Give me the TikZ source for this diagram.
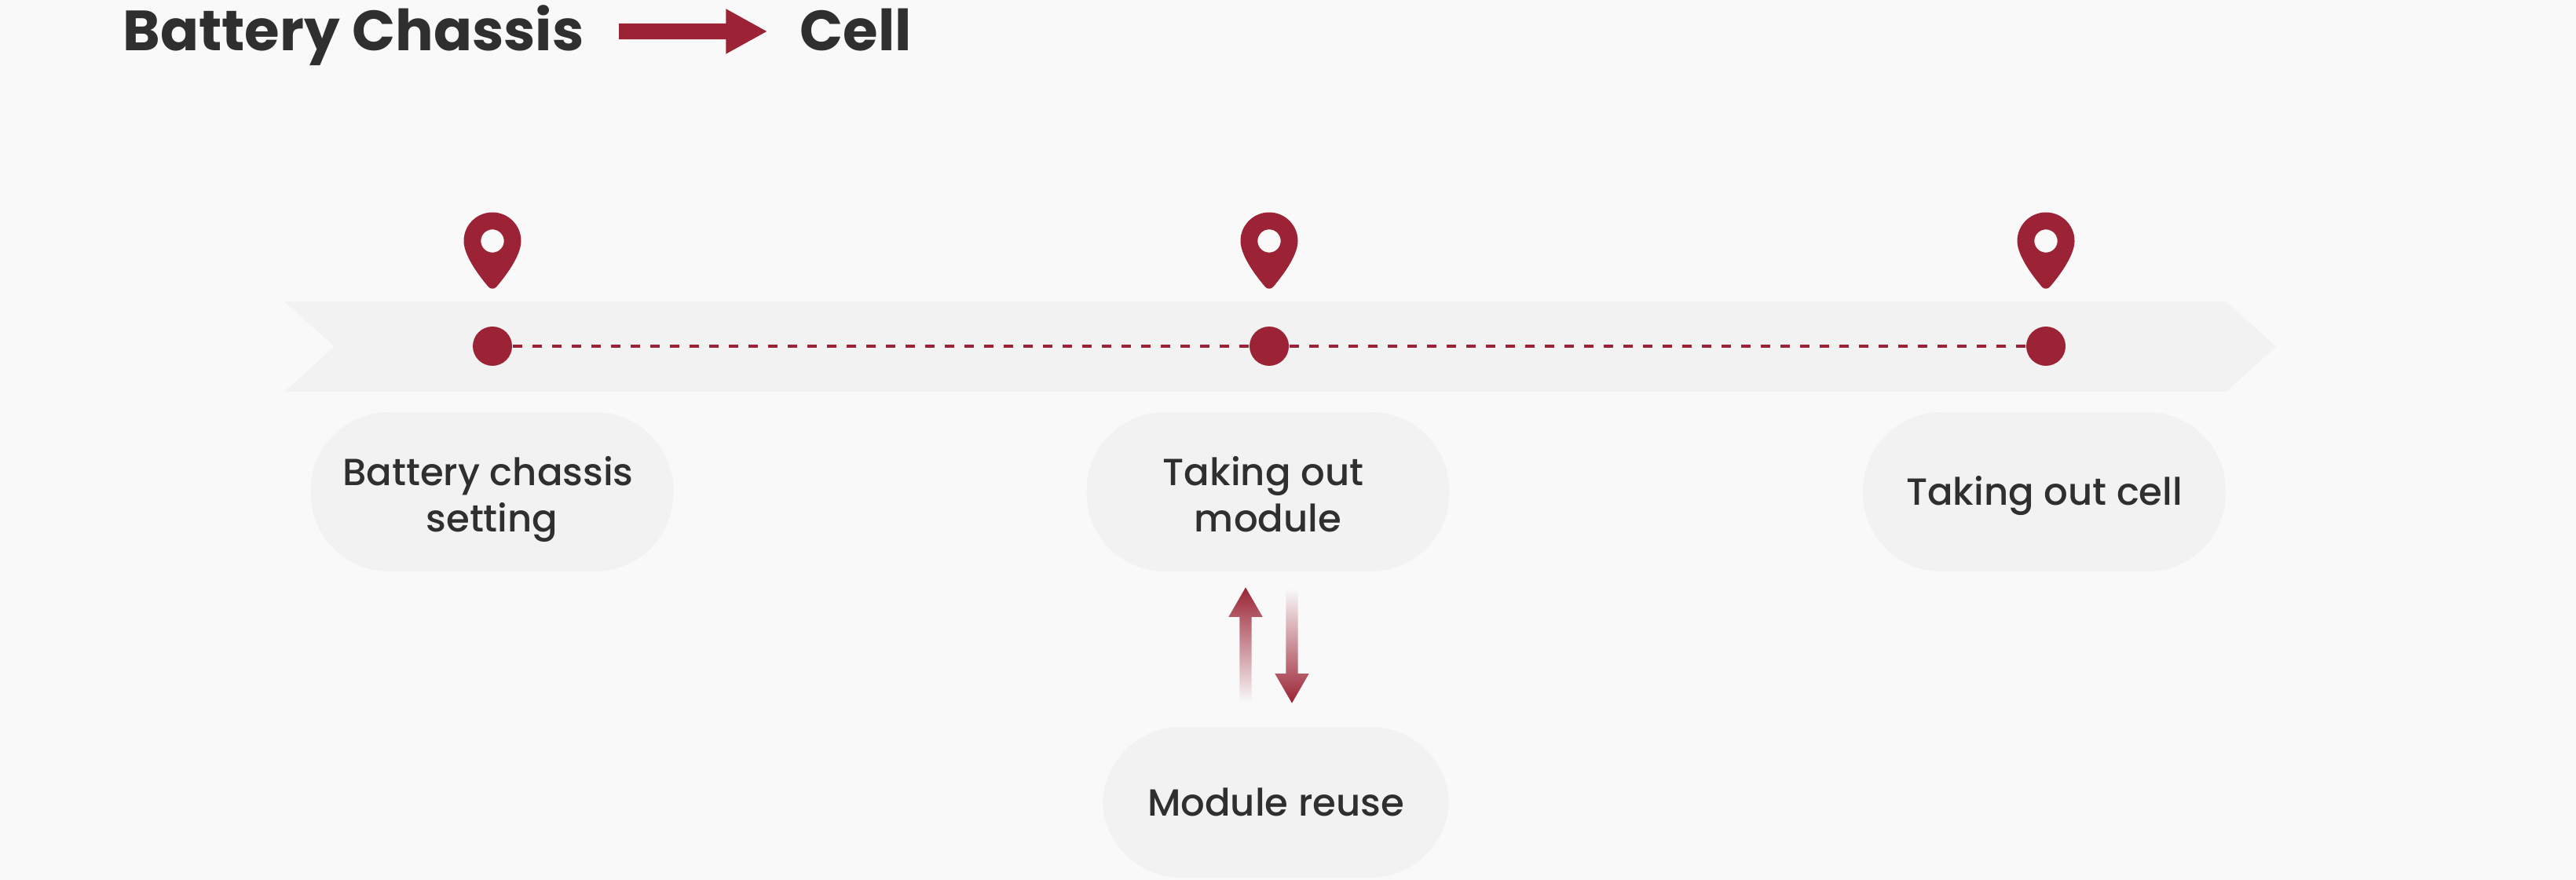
\documentclass[tikz,border=0pt]{standalone}
\usepackage{fontspec}
\setmainfont{Poppins}[UprightFont=* Medium, BoldFont=* Bold]
\usepackage{xcolor}
\usetikzlibrary{shapes.arrows, positioning, calc}
\definecolor{pinred}{RGB}{155,35,53}
\definecolor{pagegray}{RGB}{249,249,249}
\definecolor{boxgray}{RGB}{242,242,242}
\definecolor{textgray}{RGB}{47,47,47}

\begin{document}
\begin{tikzpicture}[
    stepbox/.style={rectangle, fill=boxgray, rounded corners=1cm, minimum width=4.62cm, minimum height=2.03cm,
                    align=center, inner sep=0pt, text=textgray, text height=0.34cm, text depth=0pt,
                    font=\fontsize{13.7}{16.8}\selectfont},
    twolines/.style={text height=1.03cm},
    dot/.style={circle, fill=pinred, minimum size=0.5cm, inner sep=0pt},
    heading/.style={anchor=base west, inner sep=0pt, text=textgray, font=\fontsize{20.55}{25}\selectfont\bfseries},
    blockarrow/.style={single arrow, inner xsep=0.07cm, inner ysep=0pt, outer sep=0pt, minimum width=0.42cm,
                       single arrow head extend=0.14cm, single arrow tip angle=60, minimum height=1.46cm}
]
    \fill[pagegray] (0, 0) rectangle (32.8, -11.21);

    % title
    \node[heading] (source) at (1.56, -0.65) {Battery Chassis};
    \node[heading] (target) at (10.18, -0.65) {Cell};
    \node[single arrow, fill=pinred, inner xsep=0pt, inner ysep=0.095cm, outer sep=0pt, minimum width=0.56cm, minimum height=1.88cm,
          single arrow head extend=0.185cm, single arrow tip angle=58] (titlearrow) at (8.73, -0.4) {};

    % ribbon
    \fill[boxgray] (3.62, -3.84) -- (28.34, -3.84) -- (28.98, -4.415) -- (28.34, -4.99)
        -- (3.62, -4.99) -- (4.26, -4.415) -- cycle;

    % stops
    \foreach \name/\x in {first/6.27, second/16.16, third/26.05} {
        \node[dot] (\name) at (\x, -4.41) {};
        \fill[pinred, even odd rule, shift={(\x, -3.07)}]
            (-0.365, 0) arc[start angle=180, end angle=0, radius=0.365]
            .. controls (0.365, -0.2) and (0.14, -0.48) .. (0.05, -0.585)
            .. controls (0.025, -0.615) and (-0.025, -0.615) .. (-0.05, -0.585)
            .. controls (-0.14, -0.48) and (-0.365, -0.2) .. cycle
            (0, 0) circle (0.147);
    }
    \draw[pinred, line width=0.04cm, dash pattern=on 0.12cm off 0.13cm] (first) -- (second);
    \draw[pinred, line width=0.04cm, dash pattern=on 0.12cm off 0.13cm] (second) -- (third);

    % labels
    \node[stepbox, twolines] (chassis) at (6.265, -6.265) {Battery chassis\hspace*{0.1cm}\\setting};
    \node[stepbox, twolines] (module) at (16.145, -6.265) {Taking out\hspace*{0.12cm}\\module};
    \node[stepbox] (cell) at (26.03, -6.265) {Taking out cell};
    \node[stepbox, minimum width=4.41cm, minimum height=1.92cm] (reuse) at (16.245, -10.22) {Module reuse};

    % block arrows
    \node[blockarrow, shape border rotate=90, top color=pinred, bottom color=pagegray] (uparrow) at (15.86, -8.28) {};
    \node[blockarrow, shape border rotate=270, top color=pagegray, bottom color=pinred] (downarrow) at (16.45, -8.16) {};

    \useasboundingbox (0, 0) rectangle (32.8, -11.21);
\end{tikzpicture}
\end{document}
